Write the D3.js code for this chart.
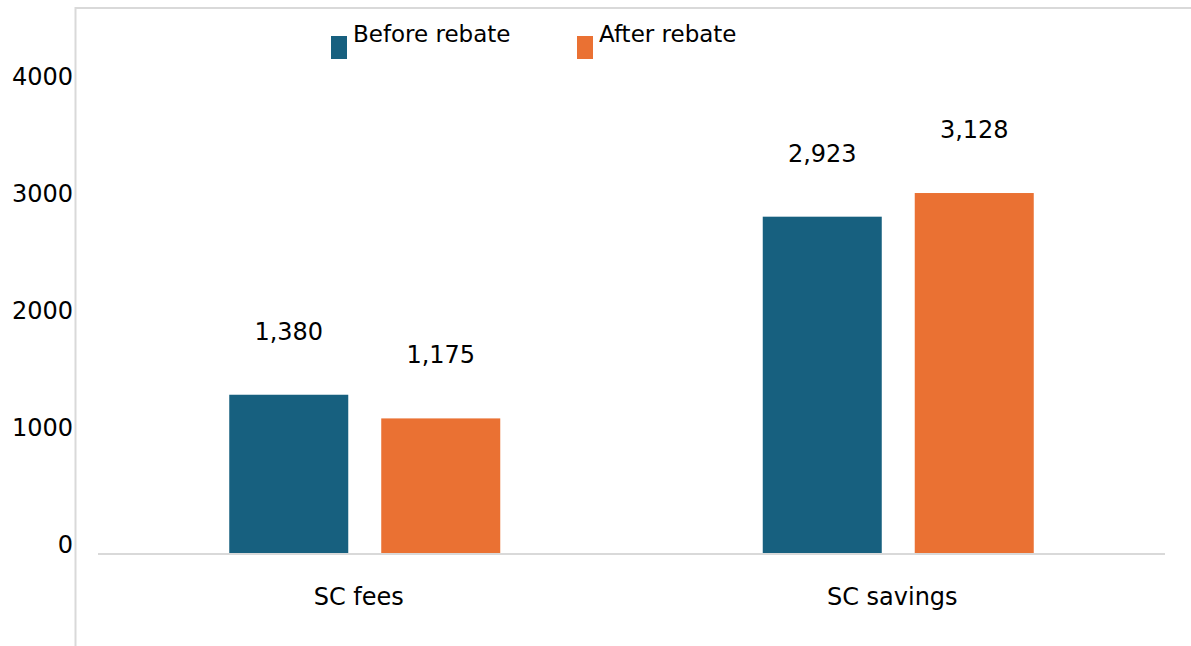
<!DOCTYPE html>
<html><head><meta charset="utf-8">
<script src="https://cdn.jsdelivr.net/npm/d3@7"></script>
<style>body{margin:0;background:#fff}svg{display:block}text{font-family:"DejaVu Sans",sans-serif;fill:#000}</style>
</head><body><svg id="c" width="1191" height="646"></svg>
<script>
const categories = ["SC fees", "SC savings"];
const seriesNames = ["Before rebate", "After rebate"];
const beforeRebate = [1380, 2923];
const afterRebate = [1175, 3128];
const yTicks = [0, 1000, 2000, 3000, 4000];
const colors = ["#17607f", "#ea7133"];

const svg = d3.select("#c");
const W = 1191, H = 646;
const x0 = d3.scaleBand().domain(categories).range([98, 1165]);
const x1 = d3.scaleBand().domain(seriesNames).range([0, 271]).paddingInner(0.217);
const y = d3.scaleLinear().domain([0, 4000]).range([554, 92.4]);
const yLab = d3.scaleLinear().domain([0, 4000]).range([553, 85]);

// frame lines
svg.append("line").attr("x1",75.5).attr("x2",75.5).attr("y1",7).attr("y2",H).attr("stroke","#d9d9d9").attr("stroke-width",2);
svg.append("line").attr("x1",75).attr("x2",W).attr("y1",8).attr("y2",8).attr("stroke","#d9d9d9").attr("stroke-width",2);

// y labels
svg.append("g").selectAll("text").data(yTicks).join("text")
  .attr("x",73).attr("y",d=>yLab(d)).attr("text-anchor","end")
  .style("font-size","24px").text(d=>d);

const series = [beforeRebate, afterRebate];
categories.forEach((c,i)=>{
  const g = svg.append("g").attr("transform",`translate(${x0(c)+x0.bandwidth()/2-135.5},0)`);
  seriesNames.forEach((s,j)=>{
    const v = series[j][i];
    g.append("rect").attr("x",x1(s)).attr("width",x1.bandwidth())
      .attr("y",y(v)).attr("height",y(0)-y(v)).attr("fill",colors[j]);
    g.append("text").attr("x",x1(s)+x1.bandwidth()/2).attr("y",y(v)-55)
      .attr("text-anchor","middle").style("font-size","24px").text(d3.format(",")(v));
  });
  svg.append("text").attr("x",x0(c)+x0.bandwidth()/2-6).attr("y",605)
    .attr("text-anchor","middle").style("font-size","24px").text(c);
});

// baseline
svg.append("line").attr("x1",98).attr("x2",1165).attr("y1",y(0)).attr("y2",y(0)).attr("stroke","#d9d9d9").attr("stroke-width",2);

// legend
const legX = [331, 577];
seriesNames.forEach((s,j)=>{
  svg.append("rect").attr("x",legX[j]).attr("y",36).attr("width",16).attr("height",23).attr("fill",colors[j]);
  svg.append("text").attr("x",legX[j]+22).attr("y",42).style("font-size","23px").text(s);
});
</script></body></html>
